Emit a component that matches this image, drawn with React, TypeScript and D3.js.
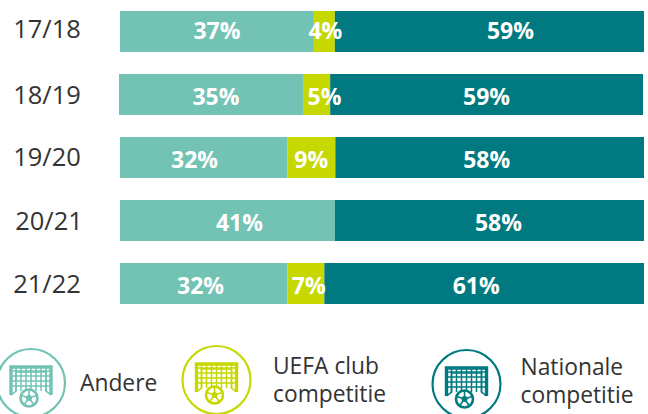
import React from "react";
import * as d3 from "d3";

const seasons = ["17/18", "18/19", "19/20", "20/21", "21/22"];
const andere = [37, 35.1, 31.9, 41, 31.9];
const uefa = [4, 5.2, 9.2, 0, 7.1];
const nationaal = [59, 59.7, 58.9, 59, 61];
const andereLabels = ["37%", "35%", "32%", "41%", "32%"];
const uefaLabels = ["4%", "5%", "9%", "", "7%"];
const nationaalLabels = ["59%", "59%", "58%", "58%", "61%"];
const legendNames = [["Andere"], ["UEFA club", "competitie"], ["Nationale", "competitie"]];

const COLORS = ["#72c3b4", "#c6d800", "#007a80"];
const TEXT = "#333333";
const FONT = "'Open Sans', sans-serif";

// layout offsets (px) of the labels relative to their segment centre
const labelShift = [
  [0, 5, -9, 12, -3],
  [1, 8, 0, 0, 3],
  [21, 0, -3, 9, -8],
];
const seasonX = [47, 47, 47, 49, 47];
const seasonY = [29, 95, 157, 221, 284];
const rowShift = [0, -1, 0, 0, 0];
const labelY = [31, 97, 160, 223, 286];

const Goal = ({ cx, cy, color }: { cx: number; cy: number; color: string }) => {
  const r = 34;
  const xs = d3.range(0, 7).map((i) => -15 + i * 5);
  const ys = d3.range(0, 4).map((i) => -12 + i * 5);
  return (
    <g transform={`translate(${cx},${cy})`} fill="none" stroke={color}>
      <circle r={r} strokeWidth={2.2} fill="#fff" />
      <path d="M-20,12 V-16 H20 V12" strokeWidth={3.4} />
      <path d="M-20,12 L-15,8 V-11 H15 V8 L20,12" strokeWidth={1.6} />
      {xs.map((x) => (
        <line key={x} x1={x} x2={x} y1={-16} y2={8} strokeWidth={1.5} />
      ))}
      {ys.map((y) => (
        <line key={y} x1={-20} x2={20} y1={y} y2={y} strokeWidth={1.5} />
      ))}
      <circle cx={-2} cy={15} r={8.5} fill="#fff" strokeWidth={2.6} />
      <circle cx={-2} cy={15} r={3} fill={color} stroke="none" />
      {d3.range(0, 5).map((i) => {
        const a = (i * 2 * Math.PI) / 5 - Math.PI / 2;
        return (
          <line
            key={i}
            x1={-2}
            y1={15}
            x2={-2 + 8 * Math.cos(a)}
            y2={15 + 8 * Math.sin(a)}
            strokeWidth={1.6}
          />
        );
      })}
    </g>
  );
};

export default function App() {
  const x = d3.scaleLinear().domain([0, 100]).range([120, 644]);
  const rows = seasons.map((s, i) => ({ season: s, andere: andere[i], uefa: uefa[i], nationaal: nationaal[i] }));
  const stack = d3.stack<any>().keys(["andere", "uefa", "nationaal"])(rows);
  const labels = [andereLabels, uefaLabels, nationaalLabels];
  const barH = 41;
  const band = (i: number) => 11 + i * 63;

  const legend = [
    { cx: 31, cy: 383, tx: 80, color: COLORS[0] },
    { cx: 216.5, cy: 380, tx: 273, color: COLORS[1] },
    { cx: 466.5, cy: 384, tx: 520.5, color: COLORS[2] },
  ];

  return (
    <svg
      width={648}
      height={414}
      style={{ position: "absolute", left: 0, top: 0, background: "#fff" }}
      fontFamily={FONT}
    >
      {stack.map((layer, k) => (
        <g key={layer.key} fill={COLORS[k]}>
          {layer.map((d, i) => (
            <rect
              key={i}
              x={x(d[0]) + rowShift[i]}
              y={band(i)}
              width={x(d[1]) - x(d[0])}
              height={barH}
            />
          ))}
        </g>
      ))}
      {stack.map((layer, k) => (
        <g key={layer.key} fill="#fff" fontSize={23} fontWeight={700} textAnchor="middle">
          {layer.map((d, i) => (
            <text
              key={i}
              x={(x(d[0]) + x(d[1])) / 2 + rowShift[i] + labelShift[k][i]}
              y={labelY[i]}
              dy="0.36em"
            >
              {labels[k][i]}
            </text>
          ))}
        </g>
      ))}
      {seasons.map((s, i) => (
        <text
          key={s}
          x={seasonX[i]}
          y={seasonY[i]}
          dy="0.36em"
          textAnchor="middle"
          fontSize={25.5}
          fill={TEXT}
        >
          {s}
        </text>
      ))}
      {legend.map((l, i) => (
        <g key={i}>
          <Goal cx={l.cx} cy={l.cy} color={l.color} />
          {legendNames[i].map((t, j) => (
            <text
              key={t}
              x={l.tx}
              y={legendNames[i].length === 1 ? 391 : (i === 1 ? 374 : 375) + j * 28}
              fontSize={22.8}
              fill={TEXT}
            >
              {t}
            </text>
          ))}
        </g>
      ))}
    </svg>
  );
}
